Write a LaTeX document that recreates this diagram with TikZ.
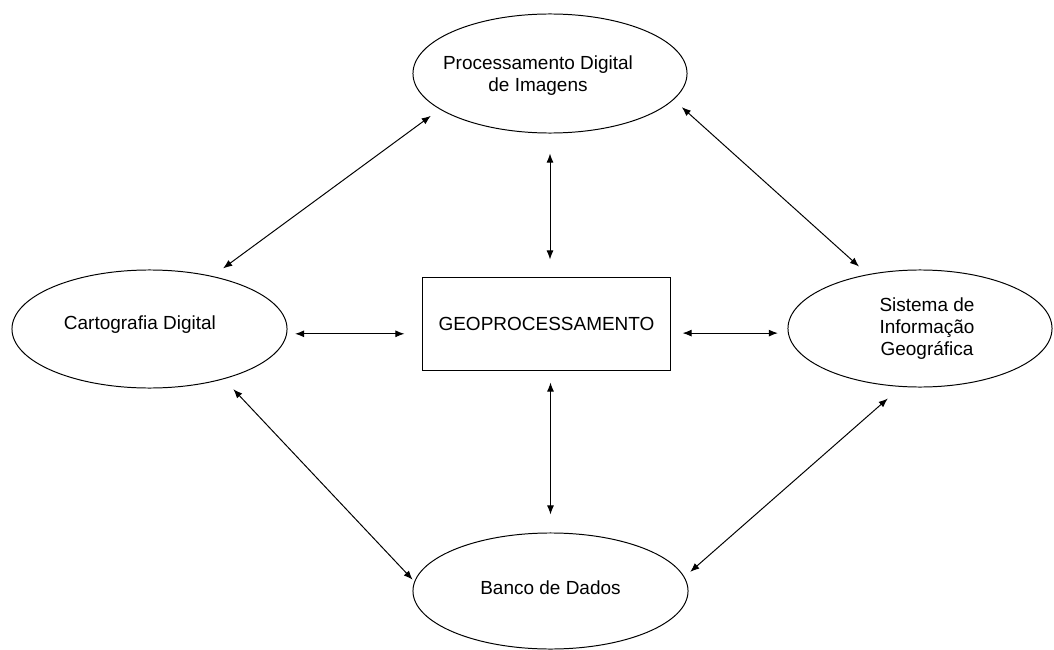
\documentclass[tikz,border=0pt]{standalone}
\usepackage{fontspec}
\setmainfont{Liberation Sans}
\usetikzlibrary{shapes.geometric, arrows.meta}

\begin{document}
\begin{tikzpicture}[x=0.025cm, y=-0.025cm, line width=0.7pt,
        font=\fontsize{13.5}{15.6}\selectfont,
        area/.style={draw, ellipse, inner sep=0pt},
        link/.style={{Latex[length=6.5pt,width=5pt]}-{Latex[length=6.5pt,width=5pt]}}]
    \useasboundingbox (0,0) rectangle (1054,650);

    \node (Geo) [draw, minimum width=6.175cm, minimum height=2.3cm] at (546.5,324) {GEOPROCESSAMENTO};
    \node (PDI) [area, minimum width=6.85cm, minimum height=2.975cm,
        label={[align=center, xshift=-0.3cm, yshift=-0.06cm]center:{Processamento Digital\\de Imagens}}] at (550,73.5) {};
    \node (CD)  [area, minimum width=6.875cm, minimum height=2.95cm,
        label={[xshift=-0.24cm, yshift=0.1cm]center:Cartografia Digital}] at (149.5,329) {};
    \node (SIG) [area, minimum width=6.6cm, minimum height=2.925cm,
        label={[align=center, xshift=0.175cm]center:{Sistema de\\Informação\\Geográfica}}] at (920,328.5) {};
    \node (BD)  [area, minimum width=6.875cm, minimum height=2.9cm,
        label={[yshift=0.075cm]center:Banco de Dados}] at (550.5,591) {};

    \draw[link, shorten <=0.325cm, shorten >=0.275cm] (CD.40) -- (PDI.198);
    \draw[link, shorten <=0.275cm, shorten >=0.29cm] (PDI.348) -- (SIG.134);
    \draw[link, shorten <=0.345cm, shorten >=0.06cm] (CD.326) -- (BD.176);
    \draw[link, shorten <=0.19cm, shorten >=0.44cm] (BD.6) -- (SIG.252);
    \draw[link, shorten <=0.5cm, shorten >=0.45cm] (PDI.south) -- (PDI.south |- Geo.north);
    \draw[link, shorten <=0.3cm, shorten >=0.45cm] (BD.north |- Geo.south) -- (BD.north);
    \draw[link, shorten <=0.2cm, shorten >=0.45cm] (CD.358) -- (CD.358 -| Geo.west);
    \draw[link, shorten <=0.3cm, shorten >=0.25cm] (Geo.east |- SIG.182) -- (SIG.182);
\end{tikzpicture}
\end{document}
